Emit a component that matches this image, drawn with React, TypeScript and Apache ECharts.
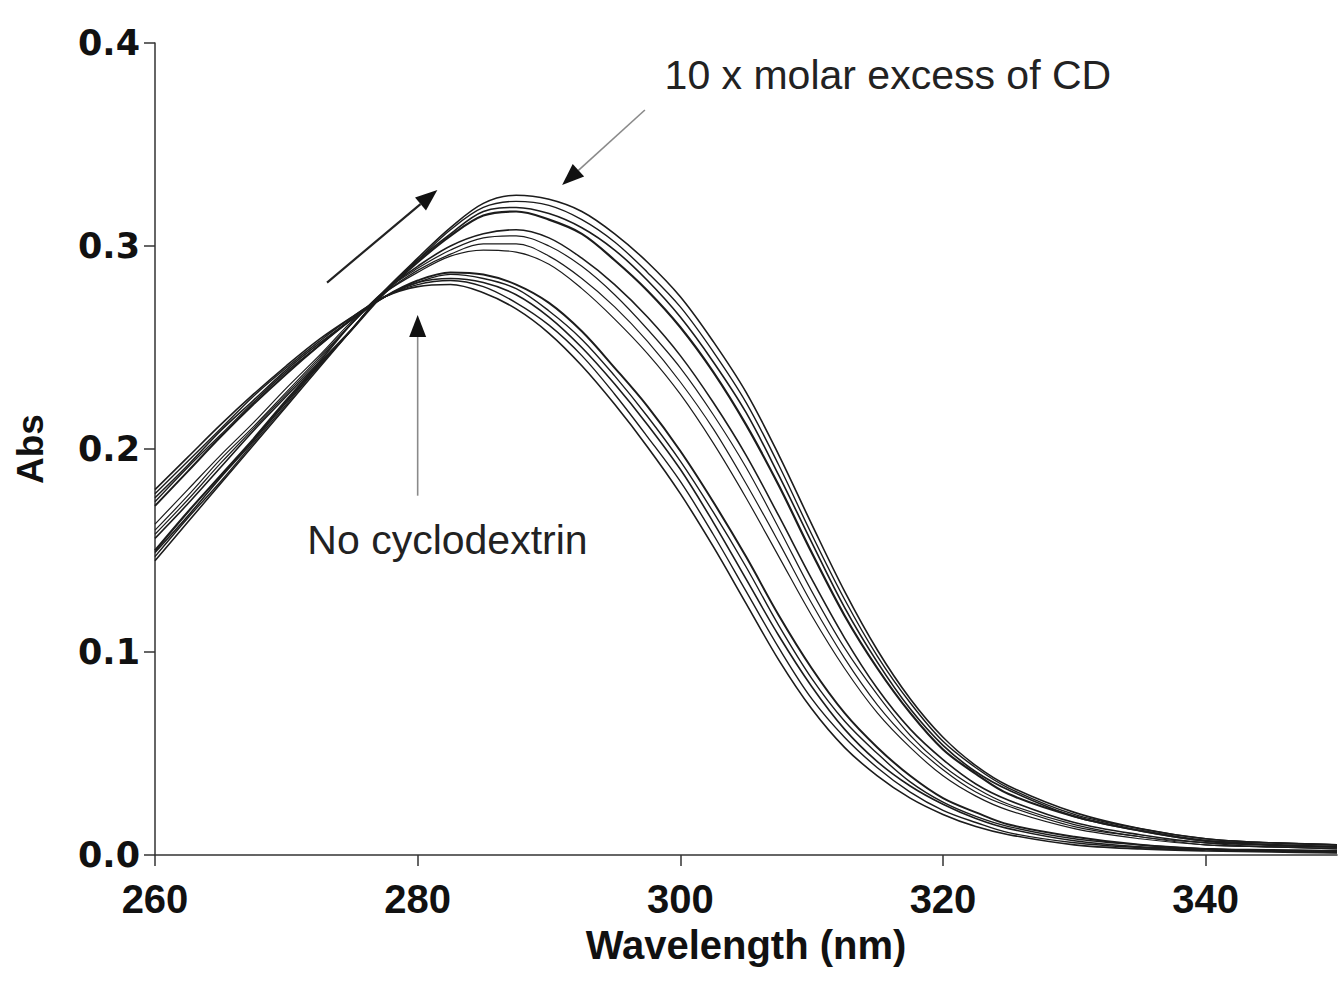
import React, { useEffect, useRef } from "react";
import * as echarts from "echarts";

// Wavelength grid (nm)
const WAVELENGTHS = [
  260, 262.5, 265, 267.5, 270, 272.5, 275, 277.5, 280, 282.5, 285, 287.5, 290, 292.5, 295, 297.5,
  300, 302.5, 305, 307.5, 310, 312.5, 315, 317.5, 320, 322.5, 325, 330, 335, 340, 345, 350,
];

// Absorbance spectra, from highest CD excess (ABS_1) to no cyclodextrin (ABS_13)
const ABS_1 = [0.145, 0.164, 0.183, 0.202, 0.221, 0.240, 0.259, 0.278, 0.294, 0.309, 0.321, 0.325, 0.323, 0.317, 0.306, 0.292, 0.275, 0.253, 0.228, 0.197, 0.163, 0.130, 0.101, 0.077, 0.058, 0.044, 0.034, 0.021, 0.013, 0.008, 0.006, 0.005];
const ABS_2 = [0.147, 0.166, 0.184, 0.203, 0.222, 0.241, 0.259, 0.278, 0.293, 0.308, 0.319, 0.322, 0.320, 0.313, 0.302, 0.287, 0.270, 0.248, 0.223, 0.192, 0.158, 0.126, 0.098, 0.075, 0.056, 0.043, 0.033, 0.020, 0.013, 0.008, 0.006, 0.005];
const ABS_3 = [0.149, 0.167, 0.186, 0.204, 0.223, 0.241, 0.259, 0.278, 0.293, 0.306, 0.317, 0.319, 0.316, 0.309, 0.298, 0.283, 0.265, 0.243, 0.218, 0.187, 0.154, 0.122, 0.095, 0.072, 0.054, 0.041, 0.032, 0.019, 0.012, 0.007, 0.006, 0.005];
const ABS_4 = [0.150, 0.169, 0.187, 0.205, 0.224, 0.242, 0.259, 0.277, 0.292, 0.305, 0.315, 0.317, 0.313, 0.306, 0.293, 0.278, 0.260, 0.238, 0.212, 0.182, 0.149, 0.118, 0.092, 0.070, 0.052, 0.040, 0.030, 0.019, 0.012, 0.007, 0.005, 0.004];
const ABS_5 = [0.156, 0.173, 0.191, 0.209, 0.226, 0.243, 0.262, 0.278, 0.290, 0.300, 0.306, 0.308, 0.304, 0.294, 0.281, 0.265, 0.246, 0.223, 0.197, 0.167, 0.136, 0.107, 0.082, 0.062, 0.047, 0.035, 0.027, 0.016, 0.010, 0.006, 0.005, 0.004];
const ABS_6 = [0.158, 0.175, 0.193, 0.210, 0.227, 0.244, 0.262, 0.278, 0.289, 0.298, 0.304, 0.305, 0.300, 0.290, 0.276, 0.259, 0.240, 0.217, 0.191, 0.161, 0.130, 0.102, 0.079, 0.059, 0.044, 0.033, 0.025, 0.015, 0.009, 0.006, 0.004, 0.004];
const ABS_7 = [0.160, 0.177, 0.195, 0.211, 0.228, 0.245, 0.262, 0.277, 0.288, 0.296, 0.301, 0.301, 0.295, 0.284, 0.270, 0.253, 0.233, 0.210, 0.183, 0.154, 0.124, 0.097, 0.074, 0.056, 0.042, 0.031, 0.024, 0.014, 0.009, 0.005, 0.004, 0.003];
const ABS_8 = [0.163, 0.180, 0.197, 0.213, 0.230, 0.246, 0.263, 0.277, 0.287, 0.295, 0.298, 0.297, 0.291, 0.279, 0.264, 0.247, 0.227, 0.203, 0.176, 0.147, 0.118, 0.092, 0.070, 0.053, 0.039, 0.029, 0.022, 0.013, 0.008, 0.005, 0.004, 0.003];
const ABS_9 = [0.172, 0.189, 0.206, 0.222, 0.237, 0.251, 0.264, 0.275, 0.283, 0.287, 0.286, 0.281, 0.272, 0.258, 0.240, 0.221, 0.199, 0.174, 0.147, 0.118, 0.092, 0.070, 0.053, 0.039, 0.028, 0.021, 0.015, 0.009, 0.005, 0.003, 0.0025, 0.002];
const ABS_10 = [0.174, 0.191, 0.207, 0.223, 0.238, 0.251, 0.264, 0.275, 0.282, 0.286, 0.284, 0.279, 0.268, 0.254, 0.236, 0.216, 0.194, 0.169, 0.142, 0.113, 0.087, 0.066, 0.050, 0.036, 0.026, 0.019, 0.014, 0.008, 0.005, 0.003, 0.002, 0.002];
const ABS_11 = [0.176, 0.192, 0.209, 0.224, 0.239, 0.252, 0.264, 0.275, 0.282, 0.284, 0.282, 0.276, 0.265, 0.250, 0.232, 0.212, 0.190, 0.164, 0.136, 0.108, 0.083, 0.062, 0.046, 0.034, 0.025, 0.018, 0.013, 0.007, 0.004, 0.003, 0.002, 0.0015];
const ABS_12 = [0.178, 0.194, 0.210, 0.226, 0.240, 0.253, 0.265, 0.275, 0.281, 0.283, 0.280, 0.272, 0.261, 0.246, 0.227, 0.206, 0.184, 0.158, 0.130, 0.102, 0.077, 0.058, 0.043, 0.031, 0.022, 0.016, 0.011, 0.006, 0.0036, 0.0024, 0.0018, 0.0012];
const ABS_13 = [0.180, 0.196, 0.212, 0.227, 0.241, 0.254, 0.265, 0.275, 0.280, 0.281, 0.277, 0.269, 0.257, 0.241, 0.222, 0.201, 0.178, 0.152, 0.124, 0.096, 0.072, 0.053, 0.039, 0.028, 0.020, 0.014, 0.010, 0.005, 0.003, 0.002, 0.0015, 0.001];

const SPECTRA = [ABS_1, ABS_2, ABS_3, ABS_4, ABS_5, ABS_6, ABS_7, ABS_8, ABS_9, ABS_10, ABS_11, ABS_12, ABS_13];
const LINE_WIDTHS = [1.6, 1.4, 1.6, 2.2, 1.6, 1.2, 1.2, 1.2, 2.0, 1.4, 1.6, 1.4, 1.6];

const X_TICKS = [260, 280, 300, 320, 340];

const FONT = '"Liberation Sans", Arial, Helvetica, sans-serif';
const WIDE_FONT = '"DejaVu Sans", "Liberation Sans", Arial, sans-serif';

export default function App() {
  const ref = useRef<HTMLDivElement>(null);

  useEffect(() => {
    document.body.style.margin = "0";
    if (!ref.current) return;
    const chart = echarts.init(ref.current, null, { renderer: "svg" });

    const series = SPECTRA.map((vals, i) => ({
      type: "line",
      name: "s" + (i + 1),
      data: WAVELENGTHS.map((w, j) => [w, vals[j]]),
      showSymbol: false,
      smooth: 0.35,
      lineStyle: { color: "#1c1c1c", width: LINE_WIDTHS[i] },
      silent: true,
    }));

    const option: any = {
      animation: false,
      backgroundColor: "#ffffff",
      grid: { left: 155, top: 43, right: 3, bottom: 128, containLabel: false },
      xAxis: {
        type: "value",
        min: 260,
        max: 350,
        interval: 20,
        name: "Wavelength (nm)",
        nameLocation: "middle",
        nameGap: 70,
        nameTextStyle: { fontFamily: FONT, fontWeight: "bold", fontSize: 40, color: "#111" },
        axisLine: { show: true, lineStyle: { color: "#333", width: 1.5 } },
        axisTick: { show: true, length: 11, lineStyle: { color: "#333", width: 1.5 }, customValues: X_TICKS },
        axisLabel: {
          customValues: X_TICKS,
          fontFamily: FONT,
          fontWeight: "bold",
          fontSize: 40,
          color: "#111",
          margin: 24,
        },
        splitLine: { show: false },
      },
      yAxis: {
        type: "value",
        min: 0,
        max: 0.4,
        interval: 0.1,
        name: "Abs",
        nameLocation: "middle",
        nameGap: 106,
        nameTextStyle: { fontFamily: FONT, fontWeight: "bold", fontSize: 37, color: "#111" },
        axisLine: { show: true, lineStyle: { color: "#333", width: 1.5 } },
        axisTick: { show: true, length: 11, lineStyle: { color: "#333", width: 1.5 } },
        axisLabel: {
          fontFamily: WIDE_FONT,
          fontWeight: "bold",
          fontSize: 35,
          color: "#111",
          margin: 15,
          formatter: (v: number) => v.toFixed(1),
        },
        splitLine: { show: false },
      },
      series,
    };

    chart.setOption(option);

    const px = (x: number, y: number) => chart.convertToPixel({ gridIndex: 0 }, [x, y]) as number[];

    const arrow = (p0: number[], p1: number[], color: string, width: number, headLen = 22, headW = 17) => {
      const dx = p1[0] - p0[0];
      const dy = p1[1] - p0[1];
      const L = Math.hypot(dx, dy);
      const ux = dx / L;
      const uy = dy / L;
      const bx = p1[0] - ux * headLen;
      const by = p1[1] - uy * headLen;
      const nx = -uy;
      const ny = ux;
      return [
        { type: "line", silent: true, shape: { x1: p0[0], y1: p0[1], x2: bx, y2: by }, style: { stroke: color, lineWidth: width } },
        {
          type: "polygon",
          silent: true,
          shape: {
            points: [
              [p1[0], p1[1]],
              [bx + (nx * headW) / 2, by + (ny * headW) / 2],
              [bx - (nx * headW) / 2, by - (ny * headW) / 2],
            ],
          },
          style: { fill: "#111" },
        },
      ];
    };

    const t1 = px(298.8, 0.384);
    const t2 = px(271.6, 0.155);

    const graphic: any[] = [
      ...arrow(px(273.1, 0.282), px(281.5, 0.3276), "#222", 2.2),
      ...arrow(px(297.3, 0.367), px(291.0, 0.33), "#8a8a8a", 1.6),
      ...arrow(px(280.0, 0.177), px(280.0, 0.266), "#8a8a8a", 1.6),
      {
        type: "text",
        x: t1[0],
        y: t1[1],
        silent: true,
        style: { text: "10 x molar excess of CD", fontFamily: FONT, fontSize: 41, fill: "#222", align: "left", verticalAlign: "middle" },
      },
      {
        type: "text",
        x: t2[0],
        y: t2[1],
        silent: true,
        style: { text: "No cyclodextrin", fontFamily: FONT, fontSize: 41, fill: "#222", align: "left", verticalAlign: "middle" },
      },
    ];

    chart.setOption({ graphic });

    return () => chart.dispose();
  }, []);

  return <div ref={ref} style={{ width: 1340, height: 983 }} />;
}
